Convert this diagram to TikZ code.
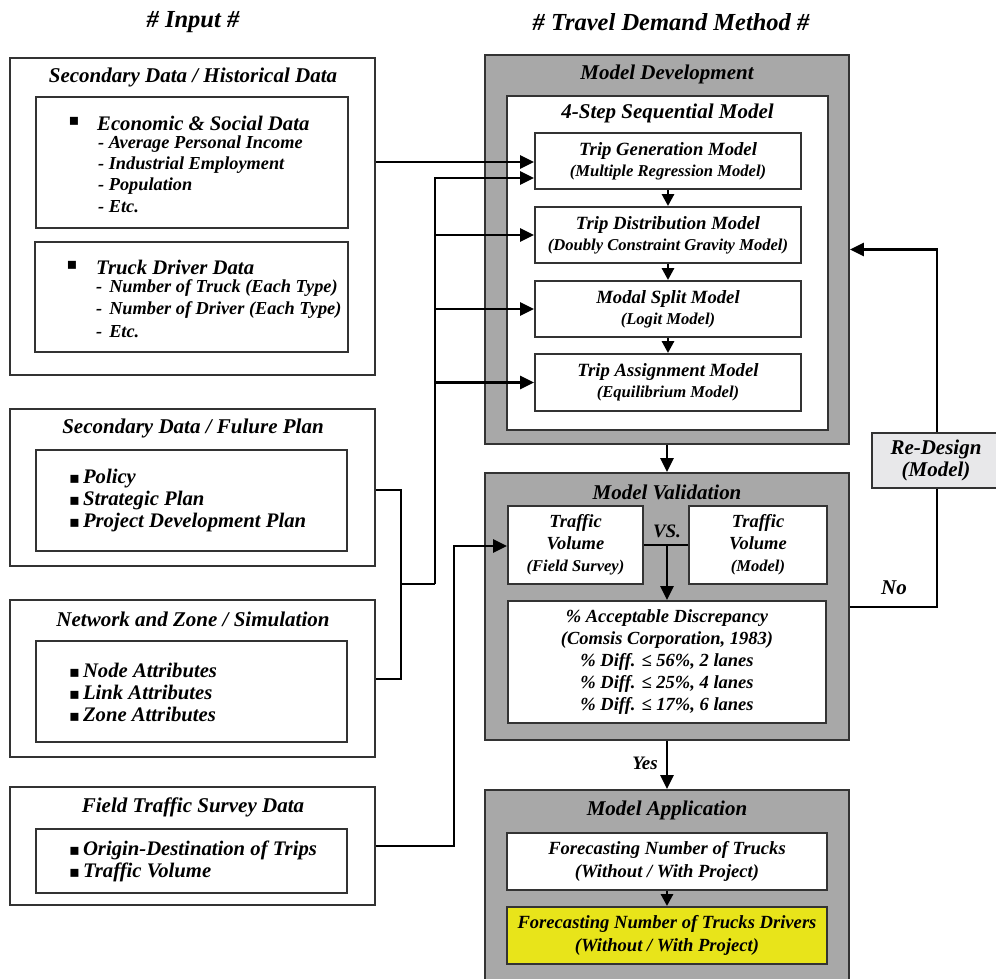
\documentclass[tikz,border=0pt]{standalone}
\usepackage{fontspec}
\setmainfont{Liberation Serif}
\newfontfamily\symf{DejaVu Sans}
\usetikzlibrary{arrows.meta}
\definecolor{gfill}{HTML}{A8A8A8}
\definecolor{rfill}{HTML}{E8E8EA}
\definecolor{yfill}{HTML}{E8E41A}
\definecolor{edge}{HTML}{333333}
\newcommand\fsA{\fontsize{24.5}{28}\selectfont}
\newcommand\fsT{\fontsize{21}{24}\selectfont}
\newcommand\fsH{\fontsize{20.7}{24}\selectfont}
\newcommand\fsS{\fontsize{18.3}{21}\selectfont}
\newcommand\fsM{\fontsize{18.7}{21}\selectfont}
\newcommand\fsN{\fontsize{16.6}{21}\selectfont}
\newcommand\fsV{\fontsize{18.5}{22}\selectfont}
\newcommand\fsW{\fontsize{16.5}{22}\selectfont}
\newcommand\fsR{\fontsize{21}{21.5}\selectfont}
\newcommand\bul{{\symf\fontsize{16}{16}\selectfont ▪}}
\begin{document}
\begin{tikzpicture}[x=1pt,y=-1pt,
  box/.style={draw=edge, line width=1.9pt, inner sep=0pt, fill=white, align=center},
  gbox/.style={box, fill=gfill},
  fM/.style={font=\bfseries\itshape\fsM},
  fV/.style={font=\bfseries\itshape\fsV},
  fR/.style={font=\bfseries\itshape\fsR},
  fF/.style={font=\bfseries\itshape\fontsize{18.6}{22.5}\selectfont},
  conn/.style={line width=2.8pt, black},
  arr/.style={conn, -{Triangle[length=14pt,width=13pt]}},
  sarr/.style={conn, -{Triangle[length=12pt,width=12pt]}},
  txt/.style={inner sep=0pt, font=\bfseries\itshape},
  lt/.style={txt, anchor=west}]
\useasboundingbox (0,0) rectangle (996,978);
\clip (0,0) rectangle (996,978);

% titles
\node[txt] (tin) at (193,22) {\fsA \# Input \#};
\node[txt] (ttd) at (671,22) {\fsA \# Travel Demand Method \#};

% ---------- input boxes ----------
\node[box, minimum width=365pt, minimum height=317pt] (b1) at (192.5,216.5) {};
\node[txt] (b1t) at (193,77) {\fsT Secondary Data / Historical Data};
\node[box, minimum width=312pt, minimum height=131pt] (b1a) at (192,162.5) {};
\node[box, minimum width=313pt, minimum height=110pt] (b1b) at (191.5,297) {};

\node[txt] (e0b) at (74,121) {\bul};
\node[lt] (e0) at (97,123) {\fsH Economic \& Social Data};
\node[lt] (e1) at (98,144) {\fsS - Average Personal Income};
\node[lt] (e2) at (98,165) {\fsS - Industrial Employment};
\node[lt] (e3) at (98,186) {\fsS - Population};
\node[lt] (e4) at (98,207) {\fsS - Etc.};

\node[txt] (d0b) at (72,265) {\bul};
\node[lt] (d0) at (96,267) {\fsH Truck Driver Data};
\node[lt] (d1) at (96,288) {\fsS -\hspace{7pt}Number of Truck (Each Type)};
\node[lt] (d2) at (96,310) {\fsS -\hspace{7pt}Number of Driver (Each Type)};
\node[lt] (d3) at (96,332) {\fsS -\hspace{7pt}Etc.};

\node[box, minimum width=365pt, minimum height=157pt] (b2) at (192.5,487.5) {};
\node[txt] (b2t) at (193,428) {\fsT Secondary Data / Fulure Plan};
\node[box, minimum width=311pt, minimum height=101pt] (b2a) at (191.5,500.5) {};
\node[lt] (p1) at (69,479) {\bul\hspace{3pt}\fsH Policy};
\node[lt] (p2) at (69,501) {\bul\hspace{3pt}\fsH Strategic Plan};
\node[lt] (p3) at (69,523) {\bul\hspace{3pt}\fsH Project Development Plan};

\node[box, minimum width=365pt, minimum height=157pt] (b3) at (192.5,678.5) {};
\node[txt] (b3t) at (193,619) {\fsT Network and Zone / Simulation};
\node[box, minimum width=311pt, minimum height=101pt] (b3a) at (191.5,691.5) {};
\node[lt] (n1) at (69,670) {\bul\hspace{3pt}\fsH Node Attributes};
\node[lt] (n2) at (69,692) {\bul\hspace{3pt}\fsH Link Attributes};
\node[lt] (n3) at (69,714) {\bul\hspace{3pt}\fsH Zone Attributes};

\node[box, minimum width=365pt, minimum height=118pt] (b4) at (192.5,846) {};
\node[txt] (b4t) at (193,807) {\fsT Field Traffic Survey Data};
\node[box, minimum width=311pt, minimum height=64pt] (b4a) at (191.5,861) {};
\node[lt] (f1) at (69,850) {\bul\hspace{3pt}\fsH Origin-Destination of Trips};
\node[lt] (f2) at (69,872) {\bul\hspace{3pt}\fsH Traffic Volume};

% ---------- model development ----------
\node[gbox, minimum width=364pt, minimum height=389pt] (md) at (667,249.5) {};
\node[txt] (mdt) at (667,74) {\fsT Model Development};
\node[box, minimum width=321pt, minimum height=334pt] (mdi) at (667.5,263) {};
\node[txt] (mdit) at (667.5,113) {\fsT 4-Step Sequential Model};
\node[box, fM, minimum width=266pt, minimum height=56pt] (tg) at (668,161)
  {Trip Generation Model\\\fsN (Multiple Regression Model)};
\node[box, fM, minimum width=266pt, minimum height=56pt] (td) at (668,235)
  {Trip Distribution Model\\\fsN (Doubly Constraint Gravity Model)};
\node[box, fM, minimum width=266pt, minimum height=56pt] (ms) at (668,309)
  {Modal Split Model\\\fsN (Logit Model)};
\node[box, fM, minimum width=266pt, minimum height=57pt] (ta) at (668,382.5)
  {Trip Assignment Model\\\fsN (Equilibrium Model)};

% ---------- model validation ----------
\node[gbox, minimum width=364pt, minimum height=267pt] (mv) at (667,606.5) {};
\node[txt] (mvt) at (667,492) {\fsT Model Validation};
\node[box, fV, minimum width=135pt, minimum height=78pt] (tvf) at (575.5,545)
  {Traffic\\Volume\\\fsW (Field Survey)};
\node[box, fV, minimum width=138pt, minimum height=78pt] (tvm) at (758,545)
  {Traffic\\Volume\\\fsW (Model)};
\node[box, fV, minimum width=318pt, minimum height=122pt] (acc) at (667,662)
  {\% Acceptable Discrepancy\\(Comsis Corporation, 1983)\\\% Diff. ≤ 56\%, 2 lanes\\\% Diff. ≤ 25\%, 4 lanes\\\% Diff. ≤ 17\%, 6 lanes};
\node[txt] (vs) at (667,531) {\fontsize{19}{22}\selectfont VS.};

% ---------- model application ----------
\node[gbox, minimum width=364pt, minimum height=200pt] (ma) at (667,890) {};
\node[txt] (mat) at (667,810) {\fsT Model Application};
\node[box, fF, minimum width=320pt, minimum height=57pt] (fc) at (667,861.5)
  {Forecasting Number of Trucks\\(Without / With Project)};
\node[box, fF, fill=yfill, minimum width=320pt, minimum height=57pt] (fd) at (667,935.5)
  {Forecasting Number of Trucks Drivers\\(Without / With Project)};

% ---------- re-design ----------
\node[box, fR, fill=rfill, minimum width=128pt, minimum height=55pt] (rd) at (936,460.5)
  {Re-Design\\(Model)};
\node[txt] (no) at (894,588) {\fontsize{21}{24}\selectfont No};
\node[txt] (yes) at (645,763) {\fontsize{19}{22}\selectfont Yes};

% ---------- connectors ----------
\coordinate (bt) at (435,178);
\coordinate (bj) at (435,584);
\coordinate (m2) at (401,490);
\coordinate (m3) at (401,679);
\coordinate (mj) at (401,584);
\coordinate (fv) at (454,846);
\coordinate (fw) at (454,546);
\coordinate (nc) at (937,607);

\draw[arr] (b1.east |- 0,162) -- (tg.west |- 0,162);
\draw[conn] (bj) -- (435,176.6);
\draw[arr] (bt) -- (tg.west |- bt);
\draw[arr] (bt |- td.west) -- (td.west);
\draw[arr] (bt |- ms.west) -- (ms.west);
\draw[arr] (bt |- ta.west) -- (ta.west);
\draw[conn] (b2.east |- m2) -- (m2) -- (m3) -- (b3.east |- m3);
\draw[conn] (mj) -- (bj);
\draw[arr] (b4.east |- fv) -- (fv) -- (fw) -- (tvf.west |- fw);

\draw[sarr] (tg.south) -- (td.north);
\draw[sarr] (td.south) -- (ms.north);
\draw[sarr] (ms.south) -- (ta.north);
\draw[arr] (md.south) -- (mv.north);
\draw[conn] (tvf.east) -- (tvm.west);
\draw[arr] (acc.north |- tvf.east) -- (acc.north);
\draw[conn] (mv.east |- nc) -- (nc) -- (rd.south -| nc);
\draw[arr] (rd.north -| nc) |- (md.east);
\draw[arr] (mv.south) -- (ma.north);
\draw[sarr] (fc.south) -- (fd.north);
\end{tikzpicture}
\end{document}
